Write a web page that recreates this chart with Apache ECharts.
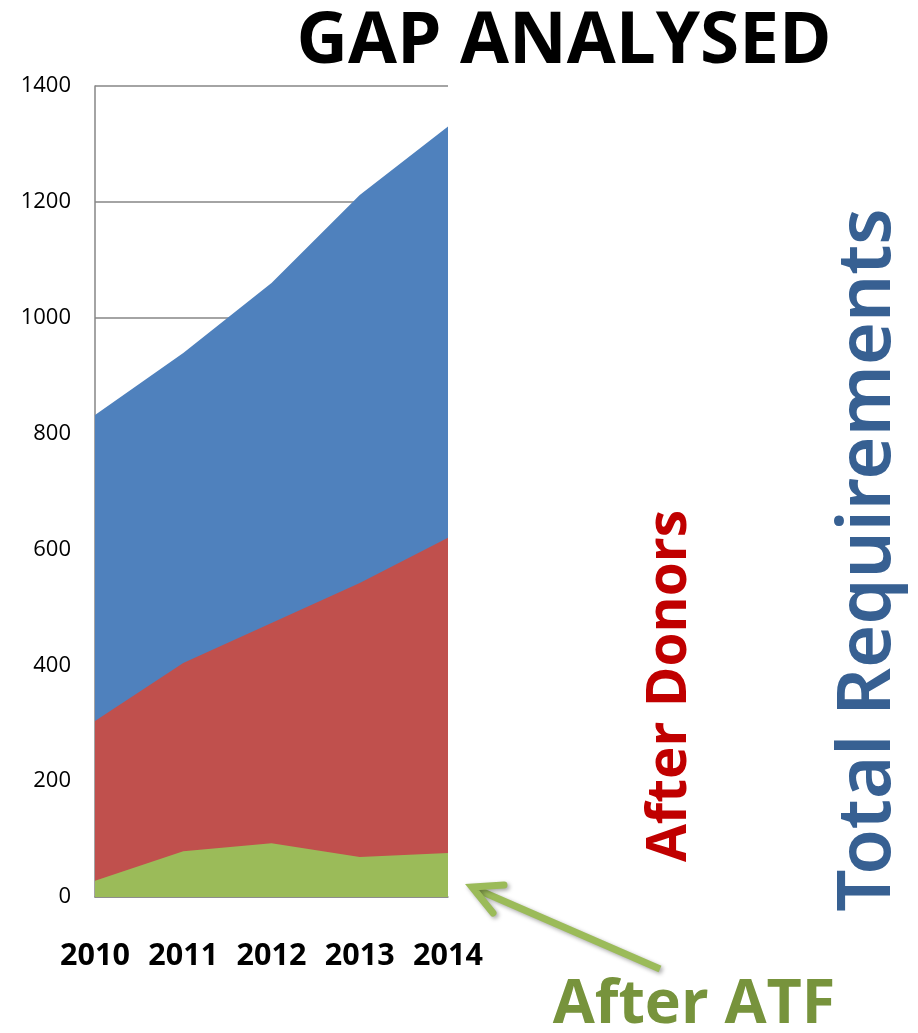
<!DOCTYPE html>
<html>
<head>
<meta charset="utf-8">
<script src="https://cdn.jsdelivr.net/npm/echarts@6/dist/echarts.min.js"></script>
<style>
  html, body { margin: 0; padding: 0; background: #ffffff; }
  #chart { width: 918px; height: 1033px; }
</style>
</head>
<body>
<div id="chart"></div>
<script>
// Funding gap by year
const years = ['2010', '2011', '2012', '2013', '2014'];
const totalRequirements = [832, 939, 1060, 1212, 1330];
const afterDonors = [304, 404, 473, 542, 620];
const afterATF = [28, 79, 93, 69, 76];

const chart = echarts.init(document.getElementById('chart'));

function areaSeries(name, data, color) {
  return {
    name: name,
    type: 'line',
    data: data,
    symbol: 'none',
    lineStyle: { width: 0 },
    areaStyle: { color: color, opacity: 1 },
    silent: true
  };
}

chart.setOption({
  animation: false,
  backgroundColor: '#ffffff',
  grid: { left: 95, right: 470, top: 86, bottom: 136 },
  xAxis: {
    type: 'category',
    data: years,
    boundaryGap: false,
    axisLine: { lineStyle: { color: '#868686', width: 1.5 } },
    axisTick: { show: false },
    axisLabel: {
      interval: 0,
      margin: 44,
      color: '#000000',
      fontFamily: 'Open Sans',
      fontWeight: 'bold',
      fontSize: 30.5
    }
  },
  yAxis: {
    type: 'value',
    min: 0,
    max: 1400,
    interval: 200,
    axisLine: { show: true, lineStyle: { color: '#868686', width: 1.5 } },
    axisTick: { show: false },
    splitLine: { lineStyle: { color: '#868686', width: 1.5 } },
    axisLabel: {
      margin: 24,
      color: '#000000',
      fontFamily: 'Open Sans',
      fontSize: 22,
      formatter: function (v) { return String(v); }
    }
  },
  series: [
    areaSeries('Total Requirements', totalRequirements, '#4f81bd'),
    areaSeries('After Donors', afterDonors, '#c0504d'),
    areaSeries('After ATF', afterATF, '#9bbb59')
  ],
  graphic: [
    {
      type: 'text',
      position: [564, 43],
      style: {
        text: 'GAP ANALYSED',
        fill: '#000000',
        font: 'bold 71px "Open Sans"',
        align: 'center',
        verticalAlign: 'middle'
      }
    },
    {
      type: 'text',
      position: [670, 686],
      rotation: Math.PI / 2,
      style: {
        text: 'After Donors',
        fill: '#c00000',
        font: 'bold 55px "Open Sans"',
        align: 'center',
        verticalAlign: 'middle'
      }
    },
    {
      type: 'text',
      position: [869, 560],
      rotation: Math.PI / 2,
      style: {
        text: 'Total Requirements',
        fill: '#376092',
        font: '600 74px "Noto Sans"',
        align: 'center',
        verticalAlign: 'middle'
      }
    },
    {
      type: 'text',
      position: [694, 1006],
      style: {
        text: 'After ATF',
        fill: '#77933c',
        font: 'bold 61px "Open Sans"',
        align: 'center',
        verticalAlign: 'middle'
      }
    },
    // pointer from the "After ATF" label to the green area
    {
      type: 'polyline',
      shape: { points: [[660, 969], [476, 889]] },
      style: {
        stroke: '#9bbb59', lineWidth: 7, lineCap: 'butt',
        shadowColor: 'rgba(0,0,0,0.35)', shadowBlur: 4, shadowOffsetX: 2, shadowOffsetY: 2
      }
    },
    {
      type: 'polyline',
      shape: { points: [[504, 885], [472, 887], [493, 913]] },
      style: {
        stroke: '#9bbb59', lineWidth: 7, lineCap: 'round', lineJoin: 'miter',
        fill: null,
        shadowColor: 'rgba(0,0,0,0.35)', shadowBlur: 4, shadowOffsetX: 2, shadowOffsetY: 2
      }
    }
  ]
});
</script>
</body>
</html>
